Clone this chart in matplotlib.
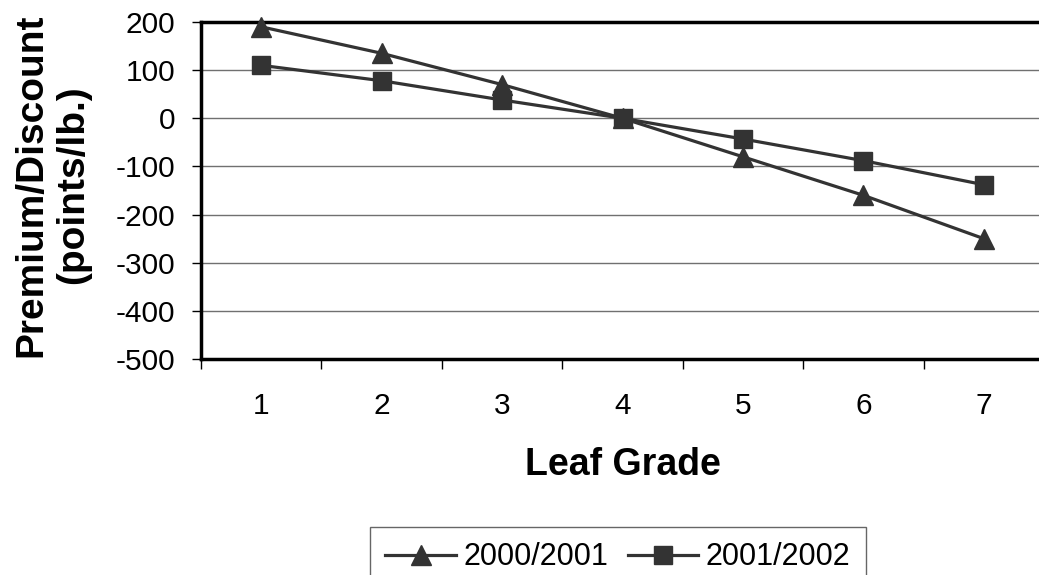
import matplotlib
matplotlib.use("Agg")
import matplotlib.pyplot as plt
from matplotlib.ticker import FixedLocator

# Premium/discount by leaf grade for two marketing seasons
grades = [1, 2, 3, 4, 5, 6, 7]
grade_labels = ["1", "2", "3", "4", "5", "6", "7"]
season_2000_2001 = [190, 135, 70, 0, -80, -160, -250]
season_2001_2002 = [110, 78, 38, 0, -43, -88, -138]
y_ticks = [200, 100, 0, -100, -200, -300, -400, -500]

plt.rcParams["font.family"] = ["Liberation Sans", "DejaVu Sans"]
plt.rcParams["axes.unicode_minus"] = False

W, H = 1039, 575
fig = plt.figure(figsize=(W / 100, H / 100), dpi=100)
ax = fig.add_axes([201 / W, 1 - 359 / H, (1044 - 201) / W, (359 - 22) / H])

ink = "#333333"
ax.plot(grades, season_2000_2001, color=ink, lw=2.3, marker="^", ms=14,
        markeredgecolor=ink, markerfacecolor=ink, label="2000/2001", clip_on=False, zorder=3)
ax.plot(grades, season_2001_2002, color=ink, lw=2.3, marker="s", ms=13,
        markeredgecolor=ink, markerfacecolor=ink, label="2001/2002", clip_on=False, zorder=3)

ax.set_xlim(0.5, 7.5)
ax.set_ylim(-500, 200)
ax.set_yticks(y_ticks)
ax.yaxis.grid(True, color="#707070", lw=1.0)
ax.set_axisbelow(True)

ax.set_xticks(grades)
ax.set_xticklabels(grade_labels)
ax.xaxis.set_minor_locator(FixedLocator([g - 0.5 for g in grades] + [7.5]))
ax.tick_params(axis="x", which="major", length=0, pad=24, labelsize=21.5)
ax.tick_params(axis="x", which="minor", length=7, width=1, direction="out", color="black")
ax.tick_params(axis="y", length=6.5, width=1, direction="out", pad=12, labelsize=21.5)

for side in ["left", "bottom", "top"]:
    ax.spines[side].set_linewidth(2.5)
    ax.spines[side].set_color("black")
ax.spines["right"].set_visible(False)

fig.text(52 / W, 1 - 185 / H, "Premium/Discount\n(points/lb.)", rotation=90,
         ha="center", va="center", ma="center", fontsize=28, fontweight="bold",
         linespacing=1.2)
fig.text(623 / W, 1 - 465 / H, "Leaf Grade", ha="center", va="center",
         fontsize=27, fontweight="bold")

leg = fig.legend(loc="upper center", bbox_to_anchor=(618 / W, 1 - 527 / H), ncol=2,
                 fontsize=22, frameon=True, fancybox=False, edgecolor="#404040",
                 handlelength=2.3, handletextpad=0.25, columnspacing=0.65,
                 borderpad=0.5, borderaxespad=0)
leg.get_frame().set_linewidth(1.0)

fig.savefig("out.png", dpi=100)
